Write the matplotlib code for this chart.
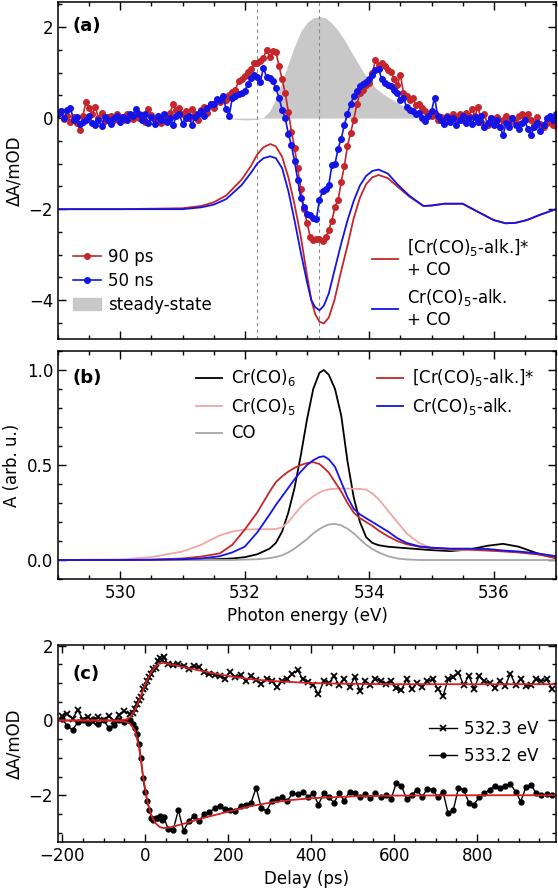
import matplotlib
matplotlib.use("Agg")
import matplotlib.pyplot as plt
import numpy as np
from matplotlib.patches import Patch
from matplotlib.ticker import MultipleLocator

plt.rcParams['font.family'] = ['DejaVu Sans']
plt.rcParams['font.size'] = 12

RED = '#c4262b'
BLUE = '#1414e6'

# ---- panel (a): transient spectra ----
energy = np.round(np.linspace(529.0, 537.0, 161), 2)

trace_90ps = [
    0.08, 0.15, -0.02, 0.05, -0.08, 0.02, -0.10, -0.26, 0.05, 0.36,
    0.22, 0.10, 0.24, 0.00, 0.12, -0.06, 0.02, 0.05, -0.04, 0.08,
    0.02, -0.05, 0.10, 0.04, -0.02, 0.12, 0.00, 0.06, -0.08, 0.20,
    0.06, -0.05, 0.03, -0.10, 0.05, 0.00, 0.12, 0.30, 0.18, 0.22,
    0.08, 0.15, 0.00, 0.20, 0.10, -0.05, 0.18, 0.25, 0.12, 0.30,
    0.22, 0.40, 0.35, 0.45, 0.40, 0.50, 0.58, 0.62, 0.82, 0.85,
    0.92, 1.02, 1.08, 1.20, 1.22, 1.26, 1.32, 1.50, 1.35, 1.47,
    1.45, 1.15, 0.85, 0.55, 0.14, -0.30, -0.65, -1.10, -1.55, -2.00,
    -2.30, -2.60, -2.68, -2.66, -2.65, -2.70, -2.62, -2.45, -2.25, -1.95,
    -1.80, -1.40, -1.05, -0.62, -0.32, -0.05, 0.30, 0.55, 0.62, 0.72,
    0.78, 1.00, 1.27, 1.17, 1.20, 1.15, 1.05, 1.02, 0.85, 0.72,
    0.95, 0.55, 0.48, 0.40, 0.44, 0.28, 0.30, 0.22, 0.15, 0.10,
    0.05, 0.12, -0.05, 0.02, -0.10, 0.05, -0.02, 0.10, 0.00, 0.08,
    -0.05, 0.12, 0.05, 0.20, 0.05, 0.25, -0.08, 0.10, -0.15, 0.00,
    -0.05, 0.02, -0.20, -0.05, 0.05, -0.10, 0.00, -0.08, 0.05, 0.10,
    -0.02, 0.10, -0.05, -0.15, 0.02, -0.12, -0.20, -0.10, 0.00, -0.15,
    -0.18,
]

trace_50ns = [
    0.10, 0.15, 0.00, 0.18, 0.22, -0.05, 0.02, -0.12, -0.08, -0.05,
    0.05, -0.10, -0.15, -0.05, -0.18, 0.02, -0.05, -0.12, 0.00, 0.05,
    -0.08, 0.02, -0.05, 0.10, 0.05, 0.20, 0.10, -0.05, 0.08, -0.10,
    0.02, -0.12, 0.05, -0.05, 0.10, -0.08, 0.00, -0.15, 0.05, 0.08,
    -0.12, 0.00, 0.05, -0.15, 0.02, 0.08, 0.15, 0.05, 0.22, 0.30,
    0.32, 0.42, 0.40, 0.48, 0.20, 0.05, 0.45, 0.48, 0.52, 0.55,
    0.60, 0.75, 0.88, 0.95, 0.90, 0.80, 1.10, 0.90, 0.88, 0.82,
    0.65, 0.45, 0.18, 0.00, -0.34, -0.60, -0.95, -1.35, -1.75, -1.95,
    -2.10, -2.13, -2.20, -2.22, -1.80, -1.60, -1.55, -1.47, -1.03, -1.00,
    -0.67, -0.45, -0.15, 0.10, 0.30, 0.48, 0.60, 0.70, 0.75, 0.80,
    0.85, 0.95, 1.05, 1.08, 0.85, 0.78, 0.72, 0.70, 0.62, 0.55,
    0.40, 0.44, 0.25, 0.18, 0.15, 0.10, 0.12, 0.00, -0.07, 0.05,
    0.15, 0.45, 0.05, -0.05, -0.12, 0.02, -0.08, 0.00, -0.15, -0.05,
    0.05, -0.10, 0.00, -0.12, 0.02, -0.08, 0.05, -0.20, -0.10, 0.00,
    -0.15, -0.05, -0.20, -0.37, -0.10, -0.20, 0.00, -0.15, -0.25, -0.10,
    -0.05, -0.25, -0.37, -0.20, -0.10, -0.28, -0.15, 0.00, 0.05, -0.05,
    0.10,
]

ss_energy = [529.0, 531.5, 531.8, 532.0, 532.2, 532.3, 532.4, 532.5, 532.6, 532.7,
             532.8, 532.9, 533.0, 533.1, 533.2, 533.3, 533.4, 533.5, 533.6, 533.7,
             533.8, 533.9, 534.0, 534.1, 534.2, 534.3, 534.4, 534.5, 534.6, 534.7,
             534.8, 534.9, 535.0, 535.5, 536.0, 537.0]
ss_value = [0.0, 0.0, -0.02, -0.04, -0.03, 0.02, 0.15, 0.42, 0.80, 1.20,
            1.58, 1.90, 2.10, 2.20, 2.23, 2.20, 2.08, 1.92, 1.72, 1.48,
            1.25, 1.02, 0.82, 0.66, 0.55, 0.46, 0.38, 0.30, 0.22, 0.15,
            0.10, 0.06, 0.04, 0.02, 0.01, 0.0]

sim_energy = [529.0, 530.0, 531.0, 531.3, 531.5, 531.7, 531.95, 532.1, 532.2, 532.3,
              532.41, 532.5, 532.6, 532.7, 532.8, 532.9, 533.0, 533.07, 533.13, 533.2,
              533.27, 533.35, 533.44, 533.55, 533.65, 533.75, 533.85, 533.95, 534.05, 534.15,
              534.3, 534.45, 534.64, 534.87, 535.0, 535.21, 535.5, 535.79, 536.0, 536.19,
              536.35, 536.53, 536.75, 537.0]
sim_excited = [-2.0, -2.0, -1.98, -1.93, -1.85, -1.70, -1.35, -1.05, -0.80, -0.64,
               -0.57, -0.62, -0.85, -1.30, -1.90, -2.60, -3.45, -4.00, -4.30, -4.47,
               -4.51, -4.38, -4.00, -3.35, -2.80, -2.20, -1.75, -1.45, -1.30, -1.25,
               -1.32, -1.50, -1.72, -1.93, -1.92, -1.88, -1.88, -2.09, -2.24, -2.31,
               -2.30, -2.24, -2.12, -2.0]
sim_alkane = [-2.0, -2.0, -2.0, -1.96, -1.90, -1.78, -1.47, -1.20, -1.00, -0.88,
              -0.84, -0.88, -1.10, -1.60, -2.25, -2.95, -3.60, -4.00, -4.15, -4.22,
              -4.12, -3.85, -3.35, -2.75, -2.25, -1.82, -1.48, -1.27, -1.16, -1.13,
              -1.22, -1.45, -1.70, -1.93, -1.92, -1.88, -1.88, -2.09, -2.24, -2.31,
              -2.30, -2.24, -2.12, -2.0]

dashed_energies = [532.2, 533.2]

# ---- panel (b): simulated spectra ----
b_energy = [529.0, 530.0, 530.5, 531.0, 531.3, 531.6, 531.8, 532.0, 532.2, 532.4,
            532.5, 532.6, 532.7, 532.8, 532.9, 533.0, 533.1, 533.2, 533.27, 533.35,
            533.45, 533.55, 533.65, 533.75, 533.85, 533.95, 534.05, 534.15, 534.3, 534.45,
            534.6, 534.8, 535.0, 535.3, 535.6, 535.9, 536.15, 536.4, 536.7, 537.0]
spec_crco6 = [0.0, 0.0, 0.0, 0.0, 0.002, 0.005, 0.008, 0.015, 0.03, 0.06,
              0.09, 0.15, 0.25, 0.38, 0.55, 0.74, 0.90, 0.985, 1.0, 0.975,
              0.90, 0.76, 0.52, 0.33, 0.20, 0.12, 0.09, 0.078, 0.07, 0.066,
              0.062, 0.057, 0.052, 0.047, 0.055, 0.075, 0.085, 0.07, 0.035, 0.01]
spec_crco5 = [0.0, 0.003, 0.015, 0.045, 0.08, 0.13, 0.15, 0.16, 0.162, 0.162,
              0.163, 0.172, 0.20, 0.24, 0.28, 0.31, 0.335, 0.355, 0.365, 0.372,
              0.375, 0.376, 0.376, 0.375, 0.374, 0.37, 0.35, 0.32, 0.26, 0.20,
              0.14, 0.09, 0.063, 0.055, 0.052, 0.05, 0.048, 0.04, 0.03, 0.02]
spec_co = [0.0, 0.0, 0.0, 0.0, 0.0, 0.0, 0.0, 0.002, 0.004, 0.01,
           0.016, 0.025, 0.04, 0.06, 0.085, 0.11, 0.14, 0.163, 0.176, 0.187,
           0.19, 0.182, 0.165, 0.14, 0.11, 0.08, 0.058, 0.04, 0.02, 0.008,
           0.003, 0.0, 0.0, 0.0, 0.0, 0.0, 0.0, 0.0, 0.0, 0.0]
spec_excited = [0.0, 0.0, 0.002, 0.008, 0.018, 0.035, 0.08, 0.16, 0.25, 0.36,
                0.41, 0.44, 0.465, 0.485, 0.50, 0.51, 0.515, 0.505, 0.485, 0.46,
                0.41, 0.36, 0.30, 0.25, 0.22, 0.20, 0.18, 0.155, 0.125, 0.10,
                0.083, 0.07, 0.063, 0.058, 0.055, 0.05, 0.045, 0.04, 0.03, 0.01]
spec_alkane = [0.0, 0.0, 0.001, 0.004, 0.008, 0.02, 0.04, 0.07, 0.145, 0.24,
               0.29, 0.335, 0.38, 0.425, 0.465, 0.50, 0.525, 0.542, 0.546, 0.53,
               0.49, 0.41, 0.33, 0.27, 0.24, 0.22, 0.20, 0.18, 0.15, 0.115,
               0.09, 0.072, 0.065, 0.06, 0.06, 0.058, 0.05, 0.045, 0.035, 0.02]

# ---- panel (c): kinetics ----
delay = np.concatenate([np.arange(-200, -30, 12.5), np.arange(-30, 50, 5),
                        np.arange(55, 981, 12.5)])

kin_5323 = [
    0.12, 0.18, 0.05, 0.28, 0.02, 0.10, -0.05, 0.08, 0.00, 0.12, -0.02, 0.15, 0.25, 0.18,
    0.20, 0.30, 0.45, 0.55, 0.62, 0.85, 0.90, 1.05, 1.15, 1.25, 1.38, 1.40, 1.58, 1.68, 1.62, 1.70,
    1.50, 1.48, 1.50, 1.45, 1.38,
    1.45, 1.42, 1.30, 1.25, 1.22,
    1.20, 1.12, 1.30, 1.15, 1.22,
    1.05, 1.20, 1.08, 0.98, 1.12,
    1.05, 0.90, 1.05, 1.10, 1.25,
    1.35, 1.10, 1.02, 0.95, 0.70,
    1.05, 1.00, 1.18, 0.95, 1.10,
    0.90, 1.15, 0.80, 1.05, 0.95,
    1.12, 1.05, 0.98, 1.05, 0.88,
    0.82, 1.10, 0.85, 1.00, 0.90,
    1.05, 1.10, 0.85, 0.65, 1.10,
    1.15, 1.28, 0.95, 1.20, 0.85,
    1.20, 1.05, 1.00, 0.88, 1.05,
    0.92, 1.25, 0.95, 1.10, 0.92,
    0.95, 1.10, 1.05, 1.10, 0.85,
]
kin_5332 = [
    0.05, -0.15, -0.25, -0.05, 0.02, -0.08, 0.05, -0.10, 0.00, -0.20, -0.12, 0.02, -0.05, 0.00,
    -0.10, -0.20, -0.35, -0.62, -1.00, -1.55, -1.90, -2.15, -2.40, -2.60, -2.65, -2.60, -2.62,
    -2.55, -2.65, -2.58,
    -2.90, -2.92, -2.40, -2.95, -2.70,
    -2.55, -2.68, -2.50, -2.45, -2.35,
    -2.30, -2.38, -2.40, -2.42, -2.28,
    -2.25, -2.20, -1.80, -2.35, -2.42,
    -2.15, -2.10, -2.05, -2.15, -1.95,
    -1.98, -1.90, -2.05, -1.95, -2.25,
    -1.95, -2.05, -2.20, -1.95, -2.15,
    -1.90, -1.95, -2.05, -1.98, -2.08,
    -1.95, -2.05, -2.00, -2.10, -1.68,
    -1.75, -2.10, -2.00, -1.85, -2.05,
    -1.82, -1.85, -2.05, -1.90, -2.48,
    -2.40, -1.80, -1.85, -2.20, -2.25,
    -2.05, -1.95, -1.85, -1.75, -1.80,
    -1.75, -1.70, -1.90, -2.17, -1.78,
    -1.72, -1.95, -2.00, -1.98, -2.00,
]

fit_delay = [-210, -100, -60, -45, -35, -25, -15, -5, 5, 15, 25, 35, 45, 60, 80, 100,
             130, 160, 200, 250, 300, 350, 400, 500, 600, 800, 990]
fit_5323 = [0.0, 0.0, 0.005, 0.03, 0.10, 0.28, 0.52, 0.82, 1.08, 1.30, 1.45, 1.53, 1.54,
            1.51, 1.46, 1.41, 1.34, 1.27, 1.19, 1.11, 1.06, 1.03, 1.00, 0.98, 0.97, 0.97, 0.97]
fit_5332 = [0.0, 0.0, -0.01, -0.04, -0.10, -0.25, -0.70, -1.50, -2.15, -2.55, -2.75, -2.85,
            -2.88, -2.86, -2.80, -2.74, -2.64, -2.55, -2.44, -2.30, -2.20, -2.13, -2.08,
            -2.03, -2.01, -2.00, -2.00]

fig = plt.figure(figsize=(5.58, 8.89), dpi=100)
ax_a = fig.add_axes([0.104, 0.6187, 0.8924, 0.3791])
ax_b = fig.add_axes([0.104, 0.3487, 0.8924, 0.2565])
ax_c = fig.add_axes([0.104, 0.0529, 0.8924, 0.2216])


def style(ax):
    ax.tick_params(which='both', direction='in', top=True, right=True, width=1.0)
    ax.tick_params(which='major', length=6)
    ax.tick_params(which='minor', length=3)
    for s in ax.spines.values():
        s.set_linewidth(1.1)


# (a)
ax_a.fill_between(ss_energy, ss_value, 0, color='#c8c8c8', lw=0)
for e in dashed_energies:
    ax_a.axvline(e, color='#888888', lw=0.8, ls=(0, (3, 3)))
l90, = ax_a.plot(energy, trace_90ps, '-o', color=RED, ms=4, lw=1.2)
l50, = ax_a.plot(energy, trace_50ns, '-o', color=BLUE, ms=4, lw=1.2)
s1, = ax_a.plot(sim_energy, sim_excited, color=RED, lw=1.3)
s2, = ax_a.plot(sim_energy, sim_alkane, color=BLUE, lw=1.3)
ax_a.set_xlim(529, 537)
ax_a.set_ylim(-4.85, 2.55)
ax_a.xaxis.set_major_locator(MultipleLocator(2))
ax_a.xaxis.set_minor_locator(MultipleLocator(0.5))
ax_a.yaxis.set_major_locator(MultipleLocator(2))
ax_a.yaxis.set_minor_locator(MultipleLocator(0.5))
ax_a.tick_params(labelbottom=False)
ax_a.set_ylabel('ΔA/mOD')
ax_a.text(0.03, 0.955, '(a)', transform=ax_a.transAxes, fontweight='bold',
          fontsize=13, va='top')
leg1 = ax_a.legend([l90, l50, Patch(color='#c8c8c8')], ['90 ps', '50 ns', 'steady-state'],
                   loc='upper left', bbox_to_anchor=(0.016, 0.29), frameon=False,
                   handlelength=1.7, handletextpad=0.42, borderaxespad=0,
                   labelspacing=0.36)
ax_a.add_artist(leg1)
leg_r = ax_a.legend([s1, s2], ['[Cr(CO)$_5$-alk.]*\n+ CO', 'Cr(CO)$_5$-alk.\n+ CO'],
                    loc='upper left', bbox_to_anchor=(0.617, 0.323), frameon=False,
                    handlelength=1.56, handletextpad=0.54, borderaxespad=0,
                    labelspacing=0.5)
for t in leg_r.get_texts():
    t.set_linespacing(1.2)
style(ax_a)

# (b)
b1, = ax_b.plot(b_energy, spec_crco6, color='black', lw=1.3)
b2, = ax_b.plot(b_energy, spec_crco5, color='#f0a6a6', lw=1.3)
b3, = ax_b.plot(b_energy, spec_co, color='#a6a6a6', lw=1.3)
b4, = ax_b.plot(b_energy, spec_excited, color=RED, lw=1.3)
b5, = ax_b.plot(b_energy, spec_alkane, color=BLUE, lw=1.3)
ax_b.set_xlim(529, 537)
ax_b.set_ylim(-0.1, 1.1)
ax_b.xaxis.set_major_locator(MultipleLocator(2))
ax_b.xaxis.set_minor_locator(MultipleLocator(0.5))
ax_b.yaxis.set_major_locator(MultipleLocator(0.5))
ax_b.yaxis.set_minor_locator(MultipleLocator(0.1))
ax_b.set_xlabel('Photon energy (eV)')
ax_b.set_ylabel('A (arb. u.)')
ax_b.text(0.03, 0.92, '(b)', transform=ax_b.transAxes, fontweight='bold',
          fontsize=13, va='top')
leg2 = ax_b.legend([b1, b2, b3], ['Cr(CO)$_6$', 'Cr(CO)$_5$', 'CO'],
                   loc='upper left', bbox_to_anchor=(0.2637, 0.957), frameon=False,
                   handlelength=1.56, handletextpad=0.54, labelspacing=0.45,
                   borderaxespad=0)
ax_b.add_artist(leg2)
ax_b.legend([b4, b5], ['[Cr(CO)$_5$-alk.]*', 'Cr(CO)$_5$-alk.'],
            loc='upper left', bbox_to_anchor=(0.627, 0.957), frameon=False,
            handlelength=1.56, handletextpad=0.54, labelspacing=0.45, borderaxespad=0)
style(ax_b)

# (c)
c1, = ax_c.plot(delay, kin_5323, '-x', color='black', ms=5, mew=1.3, lw=1.0)
c2, = ax_c.plot(delay, kin_5332, '-o', color='black', ms=3.5, lw=1.0)
ax_c.plot(fit_delay, fit_5323, color='#d42020', lw=1.3)
ax_c.plot(fit_delay, fit_5332, color='#d42020', lw=1.3)
ax_c.set_xlim(-210, 990)
ax_c.set_ylim(-3.25, 2.02)
ax_c.xaxis.set_major_locator(MultipleLocator(200))
ax_c.xaxis.set_minor_locator(MultipleLocator(50))
ax_c.yaxis.set_major_locator(MultipleLocator(2))
ax_c.yaxis.set_minor_locator(MultipleLocator(0.5))
ax_c.set_xlabel('Delay (ps)')
ax_c.set_ylabel('ΔA/mOD')
ax_c.text(0.03, 0.9, '(c)', transform=ax_c.transAxes, fontweight='bold',
          fontsize=13, va='top')
ax_c.legend([c1, c2], ['532.3 eV', '533.2 eV'], loc='upper left',
            bbox_to_anchor=(0.732, 0.655), frameon=False, handlelength=1.68,
            handletextpad=0.42, labelspacing=0.57, borderaxespad=0)
style(ax_c)

fig.savefig('out.png', dpi=100)
